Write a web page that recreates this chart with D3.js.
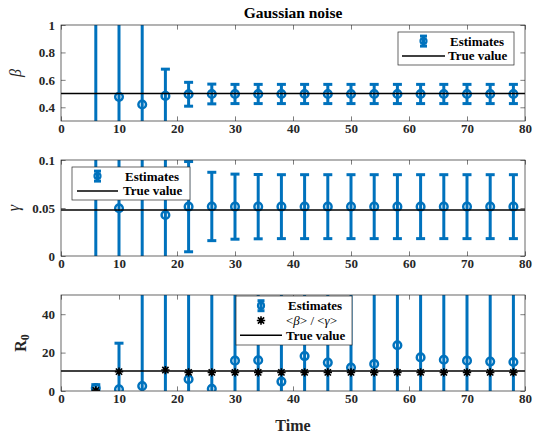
<!DOCTYPE html>
<html>
<head>
<meta charset="utf-8">
<script src="https://cdn.jsdelivr.net/npm/d3@7"></script>
<style>
  body { margin: 0; background: #fff; }
  text { font-family: "Liberation Serif", "Times New Roman", serif; }
</style>
</head>
<body>
<svg id="chart" width="533" height="439"></svg>
<script>
// sample times (x axis)
var times = [6, 10, 14, 18, 22, 26, 30, 34, 38, 42, 46, 50, 54, 58, 62, 66, 70, 74, 78];

// beta estimates and error half-widths
var betaEst = [0.10, 0.476, 0.42, 0.483, 0.495, 0.497, 0.497, 0.497, 0.497, 0.497, 0.497, 0.497, 0.497, 0.497, 0.497, 0.497, 0.497, 0.497, 0.497];
var betaErr = [1.0, 0.6, 0.7, 0.195, 0.087, 0.072, 0.07, 0.07, 0.07, 0.07, 0.07, 0.07, 0.07, 0.07, 0.07, 0.07, 0.07, 0.07, 0.07];

// gamma estimates and error half-widths
var gammaEst = [0.20, 0.0497, -0.03, 0.0427, 0.0514, 0.0516, 0.0514, 0.0514, 0.0514, 0.0514, 0.0514, 0.0514, 0.0514, 0.0514, 0.0514, 0.0514, 0.0514, 0.0514, 0.0514];
var gammaErr = [0.25, 0.06, 0.15, 0.06, 0.047, 0.0356, 0.0339, 0.0335, 0.0333, 0.0333, 0.0333, 0.0333, 0.0333, 0.0333, 0.0333, 0.0333, 0.0333, 0.0333, 0.0333];

// R0 estimates, error half-widths and <beta>/<gamma> (null = off the axes)
var r0Est = [1.5, 0.9, 2.6, 80, 6.1, 1.2, 15.8, 16.0, 4.9, 18.2, 14.8, 12.2, 14.1, 23.8, 17.5, 16.3, 15.8, 15.3, 15.1];
var r0Err = [1.8, 24, 60, 120, 60, 60, 60, 60, 60, 60, 60, 60, 60, 60, 60, 60, 60, 60, 60];
var r0Ratio = [0.3, 10.1, null, 10.9, 9.7, 9.7, 9.7, 9.7, 9.7, 9.7, 9.7, 9.7, 9.7, 9.7, 9.7, 9.7, 9.7, 9.7, 9.7];

var betaTrue = 0.5, gammaTrue = 0.048, r0True = 10.42;

var xTicks = [0, 10, 20, 30, 40, 50, 60, 70, 80];
var betaTicks = [0.4, 0.6, 0.8, 1];
var gammaTicks = [0, 0.05, 0.1];
var r0Ticks = [0, 20, 40];

var blue = '#0072BD', ink = '#262626';
var serif = '"Liberation Serif", "Times New Roman", serif';
var plotLeft = 61, plotRight = 525, tickLen = 4.6;

var svg = d3.select('#chart');
var x = d3.scaleLinear().domain([0, 80]).range([plotLeft, plotRight]);

//MATLAB style '*' marker: plus and cross together
var asterisk = {
  draw: function(ctx, size) {
    var r = Math.sqrt(size) / 2, d = r * 0.75;
    ctx.moveTo(-r, 0); ctx.lineTo(r, 0);
    ctx.moveTo(0, -r); ctx.lineTo(0, r);
    ctx.moveTo(-d, -d); ctx.lineTo(d, d);
    ctx.moveTo(-d, d); ctx.lineTo(d, -d);
  }
};

var panels = [
  { id: 'beta', top: 25, bottom: 121, domain: [0.3, 1], ticks: betaTicks,
    est: betaEst, err: betaErr, truth: betaTrue,
    legend: { x: 398, y: 32, w: 116, h: 33, line: [402, 445], text: 448 } },
  { id: 'gamma', top: 160, bottom: 256, domain: [0, 0.1], ticks: gammaTicks,
    est: gammaEst, err: gammaErr, truth: gammaTrue,
    legend: { x: 72, y: 167, w: 118, h: 33, line: [77, 118], text: 123 } },
  { id: 'r0', top: 295, bottom: 391, domain: [0, 50], ticks: r0Ticks,
    est: r0Est, err: r0Err, truth: r0True, ratio: r0Ratio,
    legend: { x: 236, y: 296, w: 116, h: 49, line: [240, 282], text: 286 } }
];

function errorMark(g, cx, yLo, yHi, cap) {
  g.append('line').attr('x1', cx).attr('x2', cx).attr('y1', yLo).attr('y2', yHi)
    .attr('stroke', blue).attr('stroke-width', 3);
  [yLo, yHi].forEach(function(yy) {
    g.append('line').attr('x1', cx - cap).attr('x2', cx + cap).attr('y1', yy).attr('y2', yy)
      .attr('stroke', blue).attr('stroke-width', 3);
  });
}

panels.forEach(function(p) {
  var y = d3.scaleLinear().domain(p.domain).range([p.bottom, p.top]);
  var g = svg.append('g').attr('class', 'panel ' + p.id);

  g.append('defs').append('clipPath').attr('id', 'clip-' + p.id)
    .append('rect').attr('x', plotLeft).attr('y', p.top)
    .attr('width', plotRight - plotLeft).attr('height', p.bottom - p.top);

  // axes, ticks pointing inward on all four sides
  var axes = g.append('g').attr('class', 'axes');
  axes.append('g').attr('transform', 'translate(0,' + p.bottom + ')')
    .call(d3.axisBottom(x).tickValues(xTicks).tickSize(-tickLen).tickPadding(3).tickFormat(d3.format('d')));
  axes.append('g').attr('transform', 'translate(0,' + p.top + ')')
    .call(d3.axisTop(x).tickValues(xTicks).tickSize(-tickLen).tickFormat(''));
  axes.append('g').attr('transform', 'translate(' + plotLeft + ',0)')
    .call(d3.axisLeft(y).tickValues(p.ticks).tickSize(-tickLen).tickPadding(6).tickFormat(function(d) { return String(d); }));
  axes.append('g').attr('transform', 'translate(' + plotRight + ',0)')
    .call(d3.axisRight(y).tickValues(p.ticks).tickSize(-tickLen).tickFormat(''));
  axes.selectAll('g').attr('font-family', null).attr('font-size', null);
  axes.selectAll('.domain').remove();
  axes.selectAll('.tick line').attr('stroke', ink).attr('stroke-width', 0.6);
  axes.selectAll('.tick text').attr('fill', ink).attr('font-family', serif)
    .attr('font-size', 13).attr('font-weight', 'bold');

  var plot = g.append('g').attr('clip-path', 'url(#clip-' + p.id + ')');

  times.forEach(function(t, i) {
    errorMark(plot, x(t), y(p.est[i] - p.err[i]), y(p.est[i] + p.err[i]), 4.5);
  });
  plot.selectAll('circle.est').data(times).enter().append('circle').attr('class', 'est')
    .attr('cx', function(d) { return x(d); })
    .attr('cy', function(d, i) { return y(p.est[i]); })
    .attr('r', 3.8).attr('fill', 'none').attr('stroke', blue).attr('stroke-width', 2.5);

  plot.append('line').attr('x1', plotLeft).attr('x2', plotRight)
    .attr('y1', y(p.truth)).attr('y2', y(p.truth))
    .attr('stroke', '#000').attr('stroke-width', 1.5);

  if (p.ratio) {
    plot.selectAll('path.ratio').data(times.filter(function(d, i) { return p.ratio[i] !== null; }))
      .enter().append('path').attr('class', 'ratio')
      .attr('transform', function(d) { return 'translate(' + x(d) + ',' + y(p.ratio[times.indexOf(d)]) + ')'; })
      .attr('d', d3.symbol().type(asterisk).size(70))
      .attr('fill', 'none').attr('stroke', '#000').attr('stroke-width', 1.6);
  }

  g.append('rect').attr('x', plotLeft).attr('y', p.top)
    .attr('width', plotRight - plotLeft).attr('height', p.bottom - p.top)
    .attr('fill', 'none').attr('stroke', ink).attr('stroke-width', 0.7);

  // legend
  var L = p.legend;
  var lg = g.append('g').attr('class', 'legend');
  lg.append('rect').attr('x', L.x).attr('y', L.y).attr('width', L.w).attr('height', L.h)
    .attr('fill', '#fff').attr('stroke', ink).attr('stroke-width', 0.7);
  var rows = p.ratio ? ['err', 'star', 'line'] : ['err', 'line'];
  var rowH = 14.8, firstRow = L.y + (L.h - rowH * rows.length) / 2 + rowH / 2;
  var mx = (L.line[0] + L.line[1]) / 2;
  rows.forEach(function(kind, k) {
    var ry = firstRow + k * rowH;
    var txt = lg.append('text').attr('x', L.text).attr('y', ry).attr('dy', '0.35em')
      .style('font-size', '13px').attr('fill', '#000');
    if (kind === 'err') {
      errorMark(lg, mx, ry - 5, ry + 5, 3.5);
      lg.append('circle').attr('cx', mx).attr('cy', ry).attr('r', 3)
        .attr('fill', 'none').attr('stroke', blue).attr('stroke-width', 2.2);
      txt.style('font-weight', 'bold').attr('x', L.text + 2).text('Estimates');
    } else if (kind === 'star') {
      lg.append('path').attr('transform', 'translate(' + mx + ',' + ry + ')')
        .attr('d', d3.symbol().type(asterisk).size(70))
        .attr('fill', 'none').attr('stroke', '#000').attr('stroke-width', 1.6);
      txt.append('tspan').text('<');
      txt.append('tspan').style('font-style', 'italic').text('β');
      txt.append('tspan').text('> / <');
      txt.append('tspan').style('font-style', 'italic').text('γ');
      txt.append('tspan').text('>');
    } else {
      lg.append('line').attr('x1', L.line[0]).attr('x2', L.line[1]).attr('y1', ry).attr('y2', ry)
        .attr('stroke', '#000').attr('stroke-width', 1.5);
      txt.style('font-weight', 'bold').text('True value');
    }
  });
});

// titles and axis labels
svg.append('text').attr('x', (plotLeft + plotRight) / 2).attr('y', 18)
  .attr('text-anchor', 'middle').style('font-size', '15.5px').style('font-weight', 'bold')
  .text('Gaussian noise');

svg.append('text').attr('transform', 'translate(21,73) rotate(-90)').attr('text-anchor', 'middle')
  .style('font-size', '16px').style('font-style', 'italic').attr('fill', ink).text('β');
svg.append('text').attr('transform', 'translate(19,208) rotate(-90)').attr('text-anchor', 'middle')
  .style('font-size', '16px').style('font-style', 'italic').attr('fill', ink).text('γ');
var r0Label = svg.append('text').attr('transform', 'translate(25.5,343) rotate(-90)').attr('text-anchor', 'middle')
  .style('font-size', '16px').style('font-weight', 'bold').attr('fill', ink);
r0Label.append('tspan').text('R');
r0Label.append('tspan').attr('dy', 3).style('font-size', '12px').text('0');

svg.append('text').attr('x', (plotLeft + plotRight) / 2).attr('y', 431)
  .attr('text-anchor', 'middle').style('font-size', '16px').style('font-weight', 'bold')
  .attr('fill', ink).text('Time');
</script>
</body>
</html>
